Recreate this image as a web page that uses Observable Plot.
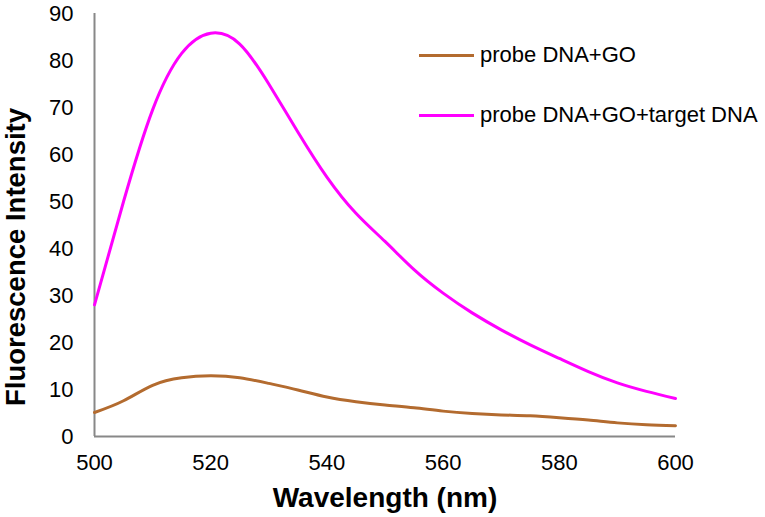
<!DOCTYPE html>
<html>
<head>
<meta charset="utf-8">
<script src="https://cdn.jsdelivr.net/npm/d3@7"></script>
<script src="https://cdn.jsdelivr.net/npm/@observablehq/plot@0.6"></script>
<style>
  body { margin: 0; background: white; }
  #chart { position: relative; width: 765px; height: 517px; font-family: "Liberation Sans", Arial, sans-serif; }
  .legend { position: absolute; left: 419px; display: flex; align-items: center; font-size: 22px; color: black; }
  .legend span.sw { display: inline-block; width: 55px; height: 3px; margin-right: 6px; }
</style>
</head>
<body>
<div id="chart"></div>
<script>
// wavelength (nm)
const wavelength = [500, 505, 510, 515, 520, 525, 530, 535, 540, 545, 550, 555, 560, 565, 570, 575, 580, 585, 590, 595, 600]
// fluorescence intensity
const probeGO = [5.1, 7.6, 10.9, 12.5, 12.9, 12.5, 11.3, 9.9, 8.4, 7.4, 6.7, 6.1, 5.4, 4.9, 4.6, 4.4, 4.0, 3.5, 2.9, 2.5, 2.3]
const probeGOTarget = [28.0, 50.0, 69.5, 81.5, 85.8, 83.5, 75.0, 64.8, 55.2, 47.5, 41.5, 35.5, 30.5, 26.3, 22.7, 19.5, 16.6, 13.8, 11.4, 9.6, 8.1]
const xTicks = [500, 520, 540, 560, 580, 600]
const yTicks = [0, 10, 20, 30, 40, 50, 60, 70, 80, 90]

const seriesNames = ['probe DNA+GO', 'probe DNA+GO+target DNA']
const seriesColors = ['#b36b2f', '#ff00ff']

const data = []
wavelength.forEach((w, i) => {
  data.push({ w: w, v: probeGO[i], s: seriesNames[0] })
  data.push({ w: w, v: probeGOTarget[i], s: seriesNames[1] })
})

let chart = Plot.plot({
  width: 765,
  height: 517,
  marginLeft: 94,
  marginRight: 90,
  marginTop: 13,
  marginBottom: 81,
  x: { domain: [500, 600], ticks: xTicks, tickSize: 0, tickPadding: 18, label: null },
  y: { domain: [0, 90], ticks: yTicks, tickSize: 0, tickPadding: 21, label: null },
  color: { domain: seriesNames, range: seriesColors },
  style: { fontFamily: '"Liberation Sans", Arial, sans-serif', fontSize: '22px', color: 'black', background: 'white' },
  marks: [
    Plot.ruleX([500], { stroke: '#888', strokeWidth: 2 }),
    Plot.ruleY([0], { stroke: '#888', strokeWidth: 2 }),
    Plot.line(data, { x: 'w', y: 'v', z: 's', stroke: 's', strokeWidth: 3, curve: 'natural' }),
    Plot.text(['Wavelength (nm)'], { frameAnchor: 'bottom', dy: 70, fontSize: 28, fontWeight: 'bold', fill: 'black' }),
    Plot.text(['Fluorescence Intensity'], { frameAnchor: 'left', textAnchor: 'middle', dx: -78, dy: 32, rotate: -90, fontSize: 27.5, fontWeight: 'bold', fill: 'black' })
  ]
})
d3.select('#chart').append(() => chart)

// legend drawn in html over the plot area
seriesNames.forEach((name, i) => {
  const row = d3.select('#chart').append('div').attr('class', 'legend')
    .style('top', (42 + i * 60) + 'px')
  row.append('span').attr('class', 'sw').style('background', seriesColors[i])
  row.append('span').text(name)
})
</script>
</body>
</html>
